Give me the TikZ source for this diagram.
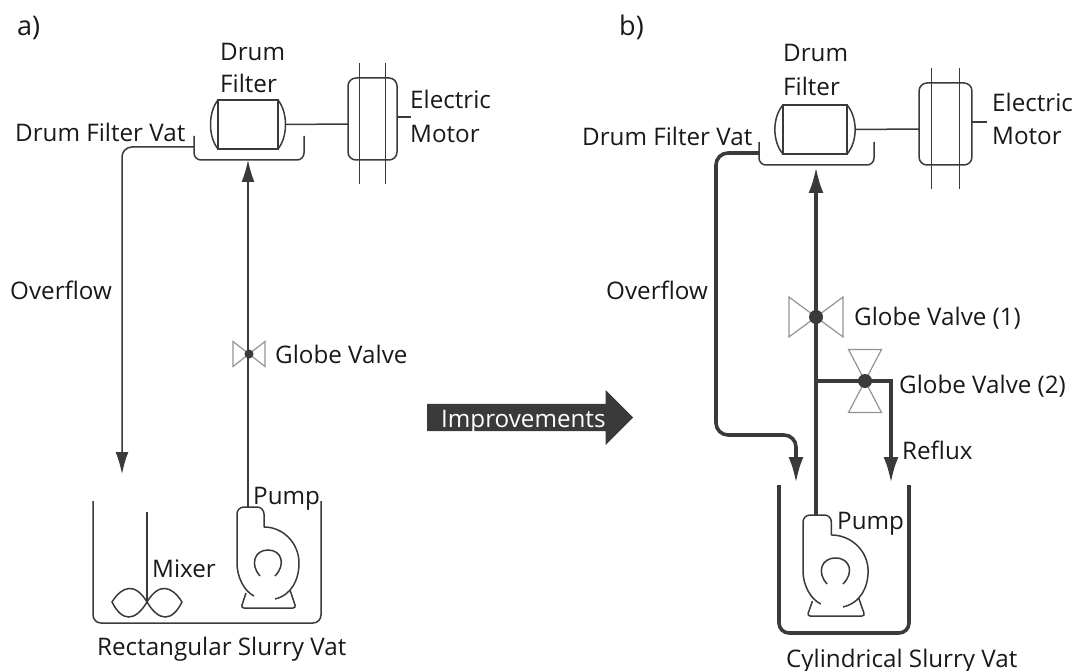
\documentclass[tikz,border=0pt]{standalone}
\usepackage{fontspec}
\setmainfont{Open Sans}
\usetikzlibrary{arrows.meta,positioning,shapes.arrows}
\definecolor{pipegray}{HTML}{3A3A3A}

\tikzset{
  thinline/.style={draw=pipegray, line width=1.5pt},
  thickline/.style={draw=pipegray, line width=3.6pt},
  lbl/.style={anchor=west, inner sep=0pt, text height=23pt, text depth=5pt, text=black!90},
  panel/.style={lbl, font=\fontsize{27}{30}\selectfont},
  valvedot/.style={circle, fill=pipegray, inner sep=0pt, minimum size=9pt},
  bigdot/.style={valvedot, minimum size=14pt},
  pipetip/.style={-{Latex[length=22pt,width=13pt]}},
  bigtip/.style={-{Latex[length=26pt,width=15pt]}},
  bowtie/.pic={
    \draw[draw=gray!85, line width=1.2pt]
      (0,0)--(-16,-12.5)--(-16,12.5)--cycle
      (0,0)--(16,-12.5)--(16,12.5)--cycle;
  },
  drum/.pic={
    \draw[thinline] (-30,-24.5) rectangle (30,24.5);
    \draw[thinline] (-30,-24.5) .. controls (-40,-12) and (-40,12) .. (-30,24.5);
    \draw[thinline] (30,-24.5) .. controls (40,-12) and (40,12) .. (30,24.5);
    \coordinate (-east) at (37.5,0);
  },
  motor/.pic={
    \draw[thinline, rounded corners=8pt] (-24.5,-41) rectangle (24.5,41);
    \draw[thinline] (-13,-56) -- (-13,65) (13,-56) -- (13,65);
    \draw[thinline] (24.5,-2) -- (38,-2);
    \coordinate (-west) at (-24.5,5);
  },
  pump/.pic={
    \draw[thinline, rounded corners=7pt] (0,56) -- (0,0) -- (27,0) -- (27,20);
    \draw[thinline] (0,56) .. controls (0,70) and (7,84) .. (17,89);
    \draw[thinline] (38,92) .. controls (55,88) and (62,72) .. (62,56) .. controls (62,36) and (46,20) .. (27,20);
    \draw[thinline] (23,69) .. controls (13,58) and (17,43) .. (31,43) .. controls (45,43) and (49,58) .. (38,69);
    \draw[thinline, rounded corners=3pt] (9,86) -- (4,101) -- (59,101) -- (53,83);
  },
}

\begin{document}
\begin{tikzpicture}[x=1pt, y=-1pt, font=\fontsize{24.2}{28}\selectfont]
	\useasboundingbox (0,0) rectangle (1077,671);

	% panel a
	\node[panel] (a) at (17,27) {a)};
	\pic (DrumA) at (248,124.5) {drum};
	\pic (MotorA) at (372.5,119) {motor};
	\draw[thinline] (DrumA-east) -- (MotorA-west);
	\draw[thinline, rounded corners=7pt] (194,136) |- (304,160) -- (304,136);
	\coordinate (VatSideA) at (194,147);
	\coordinate (VatBotA) at (248,160);
	\coordinate (TipA) at (122,474);
	\coordinate (PumpTopA) at (248,507);

	\node[lbl] (DrumLblA) at (220,52) {Drum};
	\node[lbl] (FilterLblA)
	  [below=32pt of DrumLblA.west, anchor=west] {Filter};
	\node[lbl] (ElecA) at (410,100) {Electric};
	\node[lbl] (MotorLblA) at (410,134) {Motor};
	\node[lbl] (VatLblA) at (15,133) {Drum Filter Vat};
	\node[lbl] (OverA) at (10,291) {Overflow};

	\pic at (249,354) {bowtie};
	\node[valvedot] (ValveA) at (249,354) {};
	\node[lbl] (ValveLblA)
	  [right=26pt of ValveA.center, anchor=west] {Globe Valve};

	\draw[thinline, pipetip, rounded corners=10pt] (VatSideA) -| (TipA);
	\draw[thinline, pipetip] (PumpTopA) -- (VatBotA);

	\draw[thinline, rounded corners=8pt] (93,501) |- (321,623) -- (321,501);
	\pic (PumpA) at (237,507) {pump};
	\node[lbl] (PumpLblA) at (253,495) {Pump};
	\draw[thinline] (147,512) -- (147,602);
	\draw[thinline] (147,602) .. controls (135,582) and (122,586) .. (112,602)
	  .. controls (122,622) and (135,622) .. (147,602)
	  .. controls (159,582) and (172,586) .. (182,602)
	  .. controls (172,622) and (159,622) .. (147,602);
	\node[lbl] (MixerLbl) at (152,568) {Mixer};
	\node[lbl] (RectLbl) at (97,646) {Rectangular Slurry Vat};

	% arrow
	\node[single arrow, fill=pipegray, text=white, inner sep=1pt,
	  text height=21pt, text depth=2pt,
	  minimum height=206pt, minimum width=55pt,
	  single arrow head extend=13pt, single arrow tip angle=90,
	  anchor=west] (Improve) at (427,417.5) {Improvements};

	% panel b
	\node[panel] (b) at (619,27) {b)};
	\pic[xscale=1.07] (DrumB) at (815,129.5) {drum};
	\pic[xscale=1.08] (MotorB) at (945.5,124) {motor};
	\draw[thinline] (DrumB-east) -- (MotorB-west);
	\draw[thinline, rounded corners=7pt] (759,142) |- (874,165) -- (874,142);
	\coordinate (VatSideB) at (759,153);
	\coordinate (VatBotB) at (816,167);
	\coordinate (BendB) at (716,435);
	\coordinate (TipB) at (796,483);
	\coordinate (PumpTopB) at (816,515);
	\coordinate (JoinB) at (816,381);
	\coordinate (CornerB) at (891,381);
	\coordinate (TipC) at (891,483);

	\node[lbl] (DrumLblB) at (783,53) {Drum};
	\node[lbl] (FilterLblB)
	  [below=34pt of DrumLblB.west, anchor=west] {Filter};
	\node[lbl] (ElecB) at (992,103) {Electric};
	\node[lbl] (MotorLblB) at (992,136) {Motor};
	\node[lbl] (VatLblB) at (582,137) {Drum Filter Vat};
	\node[lbl] (OverB) at (606,290) {Overflow};

	\pic[xscale=1.69, yscale=1.6] at (816,317) {bowtie};
	\pic[rotate=90, xscale=1.97, yscale=1.32] at (865,381) {bowtie};
	\node[bigdot] (ValveB) at (816,317) {};
	\node[bigdot] (ValveC) at (865,381) {};
	\node[lbl] (ValveLblB)
	  [right=38pt of ValveB.center, anchor=west] {Globe Valve (1)};
	\node[lbl] (ValveLblC) at (899,384) {Globe Valve (2)};
	\node[lbl] (RefluxLbl) at (902,450) {Reflux};

	\draw[thickline, bigtip, rounded corners=12pt] (VatSideB) -| (BendB) -| (TipB);
	\draw[thickline, bigtip] (PumpTopB) -- (VatBotB);
	\draw[thickline, bigtip] (JoinB) -- (CornerB) -- (TipC);

	\draw[thickline, rounded corners=10pt] (779,485) |- (909,633) -- (909,485);
	\pic[xscale=1.05] (PumpB) at (803,515) {pump};
	\node[lbl] (PumpLblB) at (837,520) {Pump};
	\node[lbl] (CylLbl) at (786,658) {Cylindrical Slurry Vat};
\end{tikzpicture}
\end{document}
